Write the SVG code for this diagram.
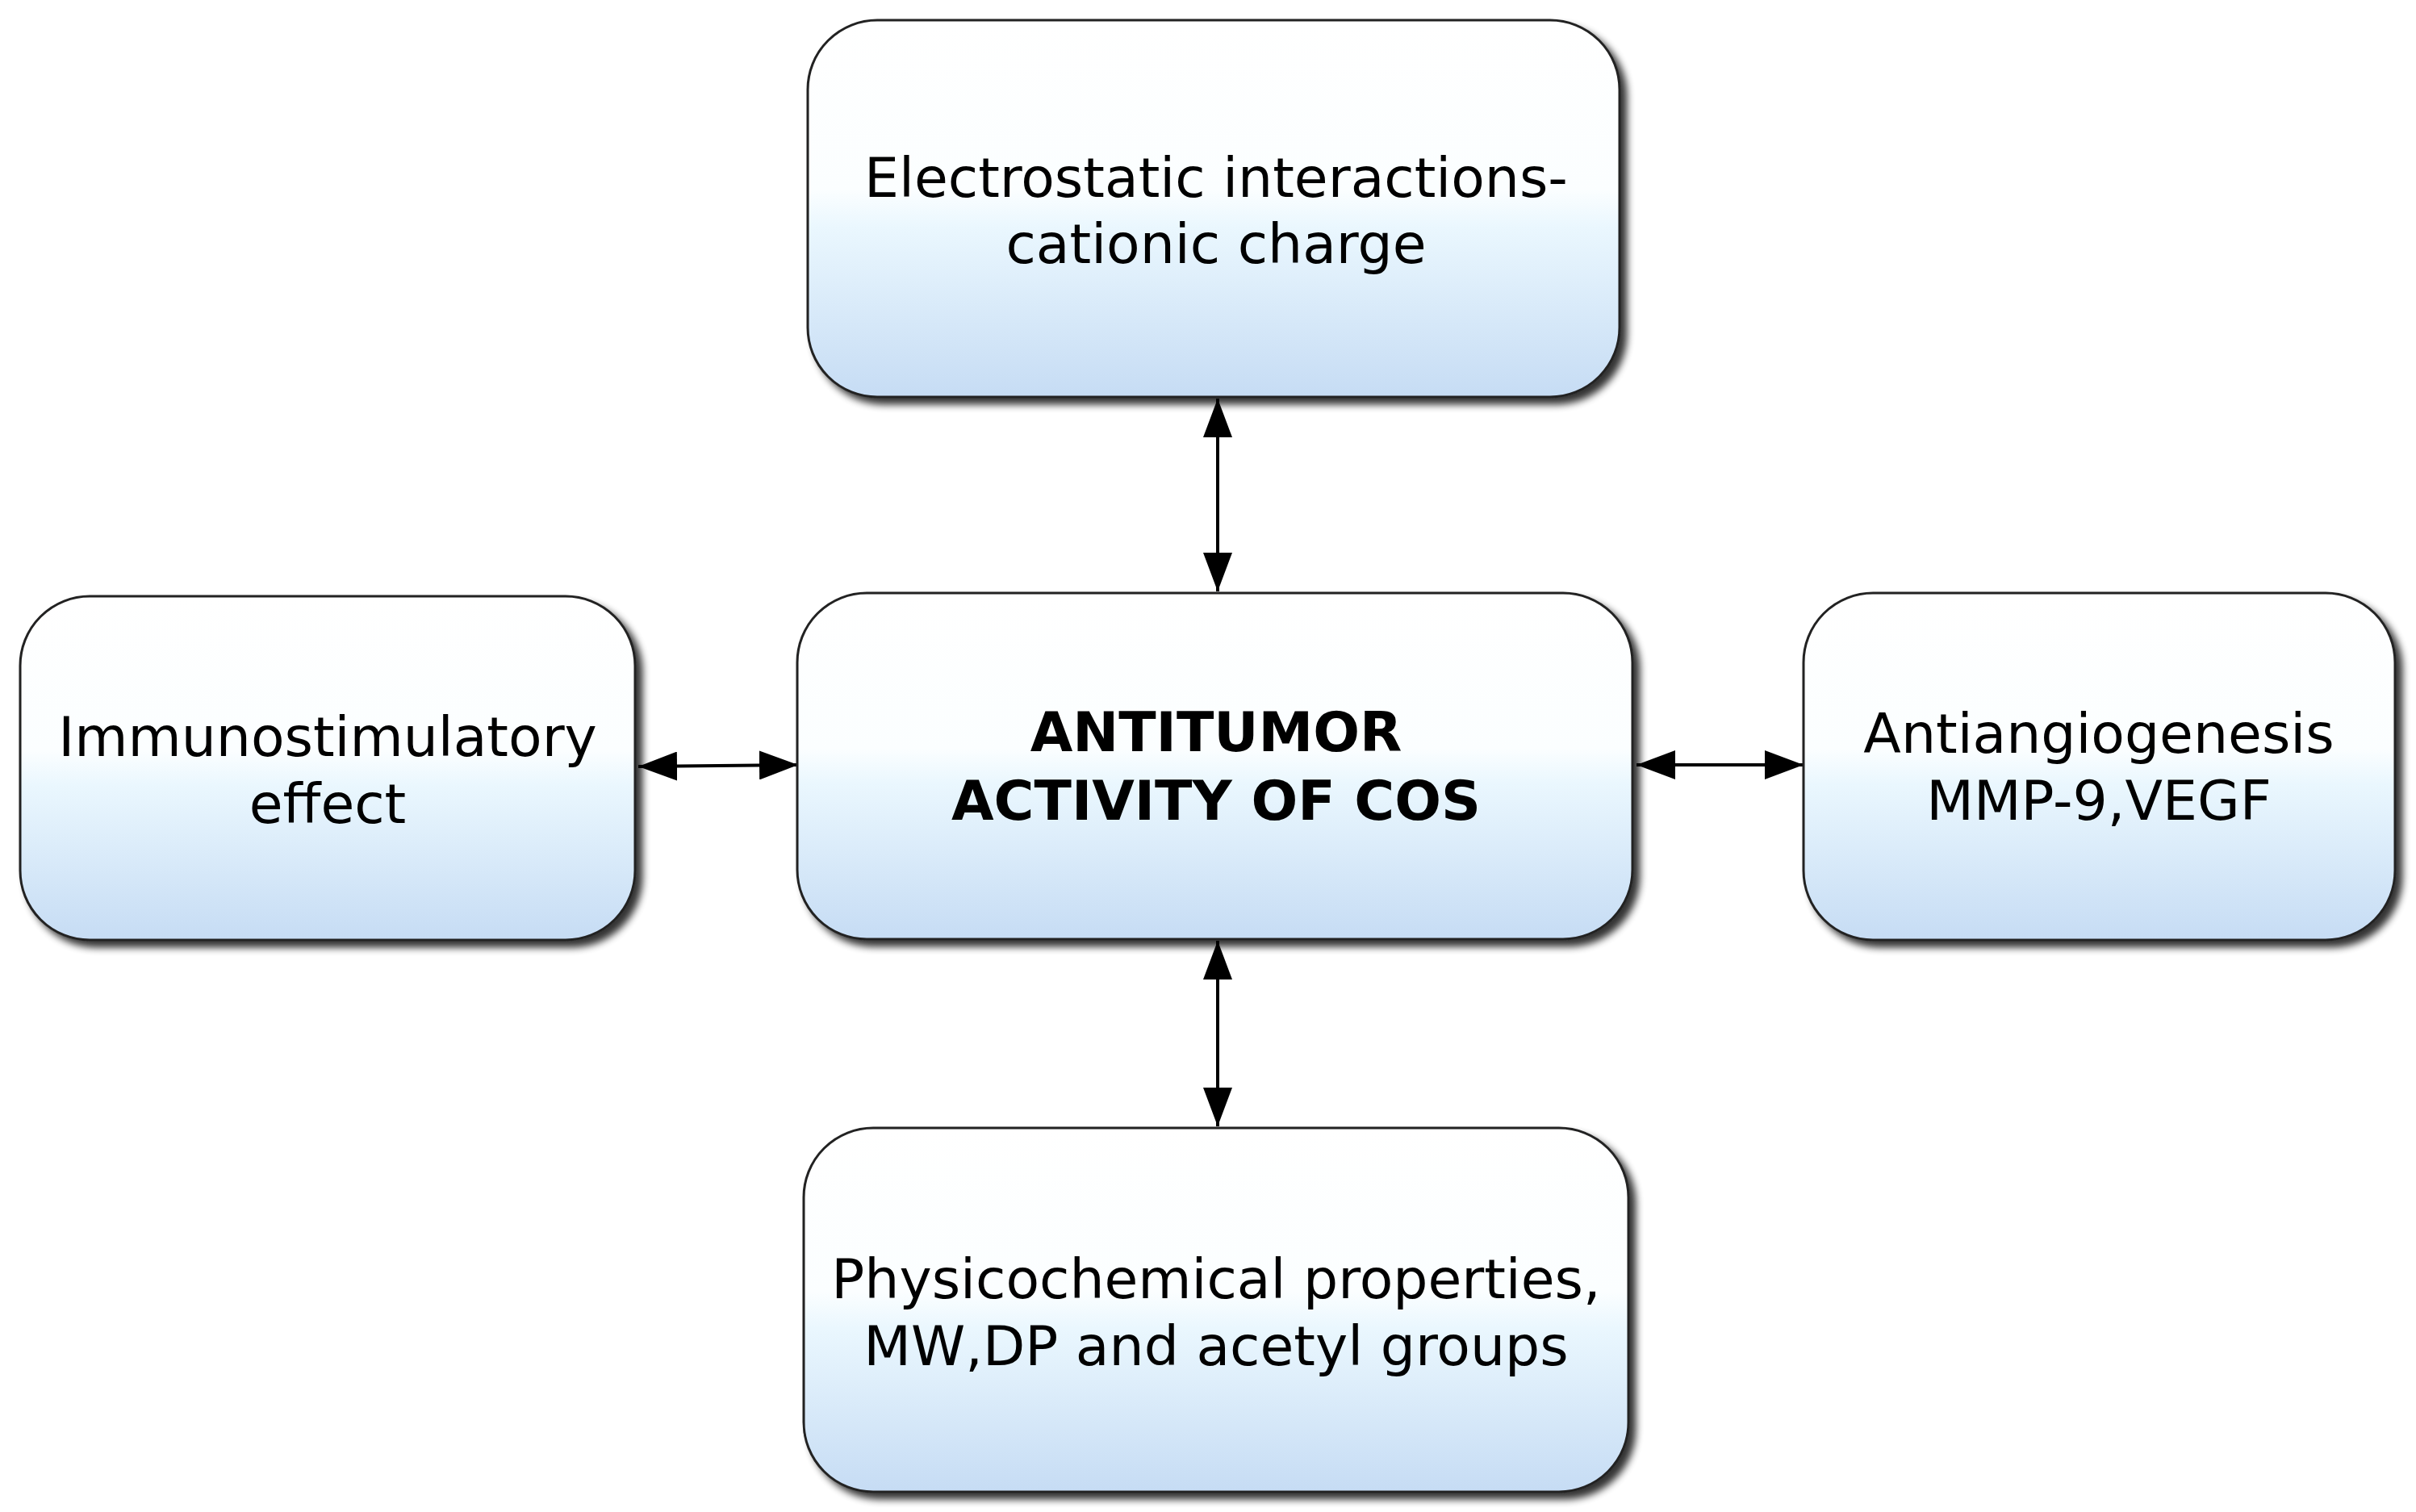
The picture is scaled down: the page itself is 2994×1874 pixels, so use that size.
<svg xmlns="http://www.w3.org/2000/svg" width="2994" height="1874" viewBox="0 0 2994 1874">
<defs>
<linearGradient id="g" x1="0" y1="0" x2="0" y2="1">
<stop offset="0" stop-color="#ffffff"/><stop offset="0.45" stop-color="#fbfeff"/><stop offset="0.55" stop-color="#eaf7fe"/><stop offset="1" stop-color="#c6dcf4"/>
</linearGradient>
<filter id="sh" x="-5%" y="-5%" width="115%" height="115%"><feGaussianBlur in="SourceAlpha" stdDeviation="5"/><feOffset dx="8" dy="8"/><feComponentTransfer><feFuncA type="linear" slope="0.8"/></feComponentTransfer><feMerge><feMergeNode/><feMergeNode in="SourceGraphic"/></feMerge></filter>
<marker id="a" viewBox="0 0 48 36" refX="48" refY="18" markerWidth="48" markerHeight="36" markerUnits="userSpaceOnUse" orient="auto-start-reverse"><path d="M0,0 L48,18 L0,36 z" fill="#000"/></marker>
</defs>
<style>
.b{fill:url(#g);stroke:#222;stroke-width:3;filter:url(#sh)}
.t{font-family:"DejaVu Sans",Verdana,sans-serif;font-size:68px;fill:#000;text-anchor:middle}
.bold{font-weight:bold}
.c{stroke:#000;stroke-width:4;fill:none;marker-start:url(#a);marker-end:url(#a)}
</style>
<rect width="2994" height="1874" fill="#fff"/>
<g id="connectors">
<line class="c" x1="1509" y1="494" x2="1509" y2="733"/>
<line class="c" x1="1509" y1="1166" x2="1509" y2="1396"/>
<line class="c" x1="791" y1="950" x2="989" y2="948"/>
<line class="c" x1="2028" y1="948" x2="2235" y2="948"/>
</g>
<g id="top"><rect class="b" x="1001" y="25" width="1006" height="467" rx="86"/>
<text class="t" x="1507" y="244">Electrostatic interactions-</text><text class="t" x="1507" y="326">cationic charge</text></g>
<g id="center"><rect class="b" x="988" y="735" width="1035" height="429" rx="86"/>
<text class="t bold" x="1507" y="931">ANTITUMOR</text><text class="t bold" x="1507" y="1016">ACTIVITY OF COS</text></g>
<g id="left"><rect class="b" x="25" y="739" width="762" height="426" rx="86"/>
<text class="t" x="406" y="937">Immunostimulatory</text><text class="t" x="406" y="1020">effect</text></g>
<g id="right"><rect class="b" x="2235" y="735" width="733" height="430" rx="86"/>
<text class="t" x="2601" y="933">Antiangiogenesis</text><text class="t" x="2601" y="1016">MMP-9,VEGF</text></g>
<g id="bottom"><rect class="b" x="996" y="1398" width="1022" height="451" rx="86"/>
<text class="t" x="1507" y="1609">Physicochemical properties,</text><text class="t" x="1507" y="1692">MW,DP and acetyl groups</text></g>
</svg>
